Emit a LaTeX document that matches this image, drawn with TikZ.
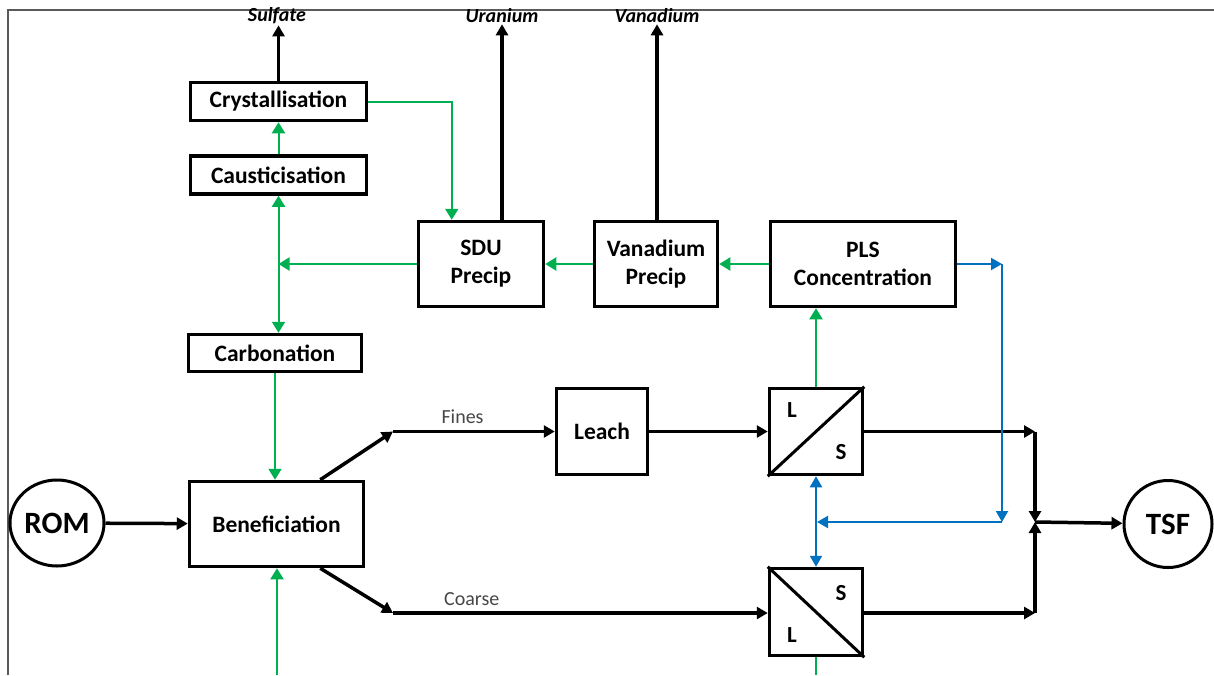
\documentclass[tikz,border=0pt]{standalone}
\usepackage{fontspec}
\setmainfont{Carlito}
\usetikzlibrary{shapes,arrows.meta,positioning,calc}

\definecolor{flowgreen}{RGB}{0,176,80}
\definecolor{flowblue}{RGB}{0,112,192}
\definecolor{labelgrey}{RGB}{70,70,70}
\definecolor{framegrey}{RGB}{90,90,90}

\begin{document}
\begin{tikzpicture}[x=1pt, y=-1pt]

% Define styles
\tikzstyle{unit} = [rectangle, draw=black, line width=3.5pt, align=center, inner sep=0pt, font=\bfseries\fontsize{23.5}{28}\selectfont]
\tikzstyle{sepbox} = [rectangle, draw=black, line width=3.5pt, minimum width=93pt, minimum height=86pt, inner sep=0pt]
\tikzstyle{sepletter} = [font=\bfseries\fontsize{23}{26}\selectfont, inner sep=0pt]
\tikzstyle{terminal} = [ellipse, draw=black, line width=3pt, inner sep=0pt, font=\bfseries\fontsize{31}{34}\selectfont]
\tikzstyle{product} = [font=\bfseries\itshape\fontsize{20}{22}\selectfont, inner sep=1pt]
\tikzstyle{streamlabel} = [font=\fontsize{20}{22}\selectfont, text=labelgrey, inner sep=0pt]
\tikzstyle{arrow} = [line width=3.5pt, -{Triangle[length=11pt,width=12pt]}]
\tikzstyle{greenarrow} = [line width=2pt, draw=flowgreen, -{Triangle[length=11pt,width=13pt]}]
\tikzstyle{bluearrow} = [line width=2pt, draw=flowblue, -{Triangle[length=11pt,width=12pt]}]

\useasboundingbox (0,0) rectangle (1214,675);

% Frame
\draw [framegrey, line width=1.2pt] (8,675) -- (8,10) -- (1214,10);

% FEED AND TAILS
\node (rom) [terminal, minimum width=94pt, minimum height=86pt] at (57,523) {ROM};
\node (tsf) [terminal, minimum width=88pt, minimum height=87pt] at (1168,524) {TSF};

% PROCESS UNITS
\node (ben) [unit, minimum width=174pt, minimum height=85pt] at (276.5,524) {Beneficiation};
\node (carb) [unit, minimum width=173pt, minimum height=37pt] at (275,353) {Carbonation};
\node (caust) [unit, minimum width=176pt, minimum height=38pt] at (278.5,175) {Causticisation};
\node (cryst) [unit, minimum width=176pt, minimum height=38pt] at (278.5,101.5) {Crystallisation};
\node (sdu) [unit, minimum width=125pt, minimum height=85pt] at (481,264) {SDU\\Precip};
\node (vprec) [unit, minimum width=123pt, minimum height=85pt] at (656,264) {Vanadium\\Precip};
\node (pls) [unit, minimum width=185pt, minimum height=85pt] at (863,264) {PLS\\Concentration};
\node (leach) [unit, minimum width=91pt, minimum height=86pt] at (602,431.5) {Leach};

% Solid/liquid separators
\node (sep1) [sepbox] at (816,431.5) {};
\draw [line width=3pt] (sep1.south west) -- (sep1.north east);
\node (sep1l) [sepletter] at ($(sep1)+(-24,-21)$) {L};
\node (sep1s) [sepletter] at ($(sep1)+(25,21)$) {S};

\node (sep2) [sepbox, minimum height=87pt] at (816,612) {};
\draw [line width=3pt] (sep2.north west) -- (sep2.south east);
\node (sep2s) [sepletter] at ($(sep2)+(25,-19)$) {S};
\node (sep2l) [sepletter] at ($(sep2)+(-24,23)$) {L};

% PRODUCTS
\node (sulfate) [product] at (277,16) {Sulfate};
\node (uranium) [product] at (502,16) {Uranium};
\node (vanadium) [product] at (657,16) {Vanadium};

\draw [arrow] (cryst.north) -- (cryst.north |- sulfate.south);
\draw [arrow] (uranium.south |- sdu.north) -- (uranium.south);
\draw [arrow] (vanadium.south |- vprec.north) -- (vanadium.south);

% Ore path
\coordinate (finesbend) at (393,431.5);
\coordinate (coarsebend) at (393,613);
\coordinate (tsfin) at (1035,522);

\draw [arrow] (rom) -- (ben);
\draw [arrow] ($(ben.north east)+(-45,0)$) -- (finesbend);
\draw [arrow] (finesbend) -- node[streamlabel, above=6pt, pos=0.43] (fines) {Fines} (leach);
\draw [arrow] ($(ben.south east)+(-45,0)$) -- (coarsebend);
\draw [arrow] (coarsebend) -- node[streamlabel, above=6pt, pos=0.21] (coarse) {Coarse} (sep2.west |- coarsebend);
\draw [arrow] (leach) -- (sep1);

% Tails collection
\draw [arrow] (sep1.east) -- (tsfin |- sep1.east);
\draw [arrow] (tsfin |- sep1.east) -- (tsfin);
\draw [arrow] (sep2.east |- coarsebend) -- (tsfin |- coarsebend);
\draw [arrow] (tsfin |- coarsebend) -- (tsfin);
\draw [arrow] (tsfin) -- (tsf);

% Liquor (green)
\coordinate (gjunc) at (caust.south |- sdu.west);
\coordinate (bentail) at (277,675);
\coordinate (sep2out) at (816,675);

\draw [greenarrow] (caust.north) -- (cryst.south);
\draw [greenarrow, {Triangle[length=11pt,width=13pt]}-{Triangle[length=11pt,width=13pt]}] (caust.south) -- (caust.south |- carb.north);
\draw [greenarrow] (sdu.west) -- (gjunc);
\draw [greenarrow] (vprec.west) -- (sdu.east);
\draw [greenarrow] (pls.west) -- (vprec.east);
\draw [greenarrow] (cryst.east) -| ($(sdu.north west)+(35,0)$);
\draw [greenarrow] (carb.south) -- (carb.south |- ben.north);
\draw [greenarrow] (bentail) -- (bentail |- ben.south);
\draw [greenarrow] (sep1.north) -- (sep1.north |- pls.south);
\draw [line width=2pt, flowgreen] (sep2.south) -- (sep2out);

% Wash return (blue)
\coordinate (bcorner) at (1002,264);
\coordinate (bdown) at (1002,522);
\coordinate (bjoin) at (817,522);

\draw [bluearrow] (pls.east) -- (bcorner);
\draw [bluearrow] (bcorner) -- (bdown);
\draw [bluearrow] (bdown) -- (bjoin);
\draw [bluearrow, {Triangle[length=11pt,width=12pt]}-{Triangle[length=11pt,width=12pt]}] (sep1.south) -- (sep2.north);

\end{tikzpicture}
\end{document}
